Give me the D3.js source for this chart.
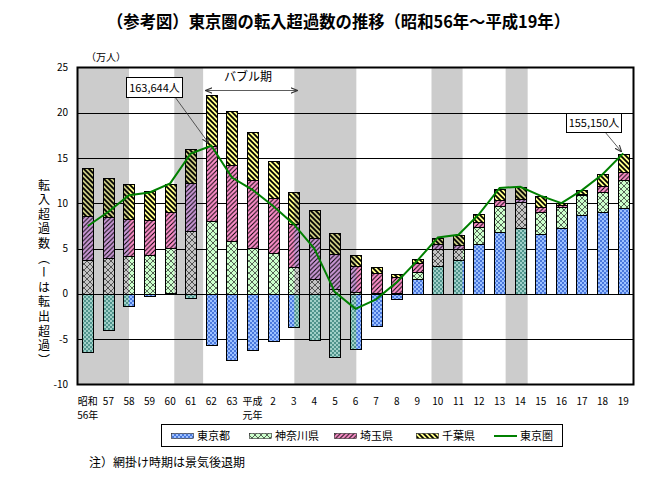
<!DOCTYPE html>
<html><head><meta charset="utf-8">
<script src="https://cdn.jsdelivr.net/npm/d3@7"></script>
<style>
html,body{margin:0;padding:0;background:#fff;}
text{font-family:"Noto Sans CJK JP","Noto Sans",sans-serif;fill:#000;}
</style></head>
<body><svg id="c" width="653" height="481"></svg>
<script>
// ---- data (万人) ----
const labels1 = ["昭和","57","58","59","60","61","62","63","平成","2","3","4","5","6","7","8","9","10","11","12","13","14","15","16","17","18","19"];
const labels2 = ["56年","","","","","","","","元年","","","","","","","","","","","","","","","","","",""];
const tokyo    = [-6.4,-4.0,-1.3,-0.25,0.15,-0.5,-5.6,-7.3,-6.2,-5.2,-3.65,-5.1,-6.95,-6.05,-3.55,-0.6,1.7,3.1,3.75,5.5,6.85,7.25,6.6,7.25,8.75,9.05,9.45];
const kanagawa = [3.7,4.0,4.15,4.25,4.9,7.0,8.0,5.85,5.05,4.5,2.95,1.65,0.5,0.2,0.05,0.15,0.75,1.9,1.2,1.9,2.85,2.9,2.4,2.35,2.15,2.2,3.15];
const saitama  = [4.85,4.5,4.1,3.9,4.0,5.2,8.3,8.35,7.5,6.05,4.75,4.5,3.9,2.85,2.25,1.7,0.95,0.5,0.45,0.5,0.63,0.37,0.62,0.2,0.15,0.65,0.9];
const chiba    = [5.3,4.3,3.85,3.25,3.1,3.8,5.7,6.0,5.35,4.1,3.5,3.1,2.35,1.3,0.66,0.36,0.5,0.73,1.15,0.9,1.28,1.3,1.2,0.23,0.4,1.3,2.0];
const total    = [7.5,9.07,10.9,11.2,12.2,15.5,16.36,12.85,11.5,9.7,7.7,5.0,0.2,-1.65,-0.6,1.3,3.67,6.24,6.54,8.81,11.7,11.83,10.83,10.03,11.46,13.22,15.52];
const seriesNames = ["東京都","神奈川県","埼玉県","千葉県"];
const lineName = "東京圏";
// recession periods (category-position units, 0 = 昭和56年)
const recessions = [[-0.6,2.0],[4.2,5.6],[10.03,13.04],[16.69,18.2],[20.29,21.36]];
const bubble = [5.74,10.16];
const yTicks = [-10,-5,0,5,10,15,20,25];
const notes = {peak:"163,644人", last:"155,150人", bubble:"バブル期", unit:"（万人）",
  title:"（参考図）東京圏の転入超過数の推移（昭和56年～平成19年）",
  ytitle:"転入超過数（ーは転出超過）",
  foot:"注）網掛け時期は景気後退期"};

// ---- layout ----
const svg = d3.select("#c");
const X0=77.5, X1=633.5, Y0=384.5, Y1=67.5;
const idx = d3.range(labels1.length);
const xb = d3.scaleBand().domain(idx).range([X0,X1]).paddingInner(0.46).paddingOuter(0.23);
const xc = i => xb(i)+xb.bandwidth()/2;
const xp = d3.scaleLinear().domain([0,idx.length-1]).range([xc(0),xc(idx.length-1)]);
const y = d3.scaleLinear().domain([-10,25]).range([Y0,Y1]);

// patterns
const defs = svg.append("defs");
function checker(id, base, cell){
  const p=defs.append("pattern").attr("id",id).attr("patternUnits","userSpaceOnUse").attr("width",4).attr("height",4);
  p.append("rect").attr("width",4).attr("height",4).attr("fill",base);
  p.append("rect").attr("width",2).attr("height",2).attr("fill",cell);
  p.append("rect").attr("x",2).attr("y",2).attr("width",2).attr("height",2).attr("fill",cell);
}
function cross(id, base){
  const p=defs.append("pattern").attr("id",id).attr("patternUnits","userSpaceOnUse").attr("width",6).attr("height",6);
  p.append("rect").attr("width",6).attr("height",6).attr("fill",base);
  p.append("path").attr("d","M-1,-1L7,7M7,-1L-1,7").attr("stroke","#222").attr("stroke-width",0.7);
}
function stripe(id, base, dir, s, w){
  const p=defs.append("pattern").attr("id",id).attr("patternUnits","userSpaceOnUse").attr("width",s).attr("height",s);
  p.append("rect").attr("width",s).attr("height",s).attr("fill",base);
  const d = dir>0 ? `M-1,${s+1}L${s+1},-1M-1,1L1,-1M${s-1},${s+1}L${s+1},${s-1}`
                  : `M-1,-1L${s+1},${s+1}M-1,${s-1}L1,${s+1}M${s-1},-1L${s+1},1`;
  p.append("path").attr("d",d).attr("stroke","#000").attr("stroke-width",w);
}
checker("pT","#9cc0ff","#4a78dc"); checker("gT","#a0d0c8","#50948c");
cross("pK","#ccffcc"); cross("gK","#c4c4c4");
stripe("pS","#ff90cc",1,4.5,1.0); stripe("gS","#cc99d8",1,4.5,1.0);
stripe("pC","#ffff88",-1,5,1.7); stripe("gC","#c8c880",-1,5,1.7);
const fills = ["pT","pK","pS","pC"], gfills=["gT","gK","gS","gC"];

// recession bands
const bandRect = r => ({x:Math.max(X0,xp(r[0])), w:Math.min(X1,xp(r[1]))-Math.max(X0,xp(r[0]))});
svg.append("g").selectAll("rect").data(recessions).join("rect")
  .attr("x",d=>bandRect(d).x).attr("width",d=>bandRect(d).w).attr("y",Y1).attr("height",Y0-Y1).attr("fill","#cccccc");
const clip = defs.append("clipPath").attr("id","recClip");
clip.selectAll("rect").data(recessions).join("rect")
  .attr("x",d=>bandRect(d).x).attr("width",d=>bandRect(d).w).attr("y",Y1).attr("height",Y0-Y1);

// gridlines
svg.append("g").selectAll("line").data(yTicks.filter(t=>t>-10&&t<25)).join("line")
  .attr("x1",X0).attr("x2",X1).attr("y1",d=>Math.round(y(d))+0.5).attr("y2",d=>Math.round(y(d))+0.5)
  .attr("stroke","#000").attr("stroke-width",1);

// stacked bars
const table = idx.map(i=>({i, s0:tokyo[i], s1:kanagawa[i], s2:saitama[i], s3:chiba[i]}));
const stack = d3.stack().keys(["s0","s1","s2","s3"]).offset(d3.stackOffsetDiverging)(table);
function drawBars(g, fl){
  g.selectAll("g").data(stack).join("g").attr("fill",(d,k)=>`url(#${fl[k]})`)
    .selectAll("rect").data(d=>d.filter(v=>v[1]!==v[0])).join("rect")
    .attr("x",d=>Math.round(xb(d.data.i))+0.5).attr("width",Math.round(xb.bandwidth()))
    .attr("y",d=>Math.round(y(Math.max(d[0],d[1])))+0.5)
    .attr("height",d=>Math.max(1,Math.round(y(Math.min(d[0],d[1])))-Math.round(y(Math.max(d[0],d[1])))))
    .attr("stroke","#000").attr("stroke-width",1);
}
drawBars(svg.append("g"), fills);
drawBars(svg.append("g").attr("clip-path","url(#recClip)"), gfills);

// total line
svg.append("path").datum(total).attr("fill","none").attr("stroke","#008000").attr("stroke-width",2)
  .attr("d",d3.line().x((d,i)=>xc(i)).y(d=>y(d)));

// frame
svg.append("rect").attr("x",X0).attr("y",Y1).attr("width",X1-X0).attr("height",Y0-Y1)
  .attr("fill","none").attr("stroke","#000").attr("stroke-width",2);

// y axis labels
svg.append("g").selectAll("text").data(yTicks).join("text")
  .attr("x",68).attr("y",d=>y(d)+3.5).attr("text-anchor","end").attr("font-size",10).text(d=>d);

// x labels
svg.append("g").selectAll("text").data(labels1).join("text")
  .attr("x",(d,i)=>xc(i)).attr("y",405).attr("text-anchor","middle").attr("font-size",10).text(d=>d);
svg.append("g").selectAll("text").data(labels2).join("text")
  .attr("x",(d,i)=>xc(i)).attr("y",419).attr("text-anchor","middle").attr("font-size",10).text(d=>d);

// titles
svg.append("text").attr("x",107).attr("y",28).attr("font-size",17).attr("font-weight","bold")
  .attr("textLength",463).attr("lengthAdjust","spacingAndGlyphs").text(notes.title);
svg.append("text").attr("x",86).attr("y",61).attr("font-size",10).text(notes.unit);
svg.append("text").attr("x",44).attr("y",179)
  .style("writing-mode","vertical-rl").style("letter-spacing","2.6px")
  .attr("font-size",12).text(notes.ytitle);

// markers
const mk = defs.append("marker").attr("id","ah").attr("viewBox","0 0 10 10").attr("refX",9).attr("refY",5)
  .attr("markerWidth",7).attr("markerHeight",7).attr("orient","auto-start-reverse").attr("markerUnits","userSpaceOnUse");
mk.append("path").attr("d","M0,1L10,5L0,9").attr("fill","none").attr("stroke","#333").attr("stroke-width",1.5);

// annotations
function callout(bx,by,bw,bh,txt,sx,sy,tx,ty){
  svg.append("line").attr("x1",sx).attr("y1",sy).attr("x2",tx).attr("y2",ty)
    .attr("stroke","#333").attr("stroke-width",0.8).attr("marker-end","url(#ah)");
  svg.append("rect").attr("x",bx+0.5).attr("y",by+0.5).attr("width",bw).attr("height",bh).attr("fill","#fff").attr("stroke","#000");
  svg.append("text").attr("x",bx+bw/2+0.5).attr("y",by+bh/2+4.5).attr("text-anchor","middle").attr("font-size",11).text(txt);
}
callout(126,77,56,20,notes.peak,175,97,xc(6)-3,y(total[6])-3);
callout(566,113,55,19,notes.last,605,132,xc(26)-2,y(total[26])-2);

// bubble period
svg.append("line").attr("x1",xp(bubble[0])).attr("x2",xp(bubble[1])).attr("y1",90.5).attr("y2",90.5)
  .attr("stroke","#333").attr("stroke-width",0.8).attr("marker-start","url(#ah)").attr("marker-end","url(#ah)");
svg.append("text").attr("x",248).attr("y",81).attr("text-anchor","middle").attr("font-size",12).text(notes.bubble);

// legend
svg.append("rect").attr("x",161.5).attr("y",424.5).attr("width",401).attr("height",22).attr("fill","#fff").attr("stroke","#000");
const legX = [171,249,334,416];
const lg = svg.append("g");
seriesNames.forEach((n,k)=>{
  lg.append("rect").attr("x",legX[k]+0.5).attr("y",433.5).attr("width",22).attr("height",5).attr("fill",`url(#${fills[k]})`).attr("stroke","#000").attr("stroke-width",0.5);
  lg.append("text").attr("x",legX[k]+26).attr("y",440).attr("font-size",11).text(n);
});
lg.append("line").attr("x1",494).attr("x2",517).attr("y1",436).attr("y2",436).attr("stroke","#008000").attr("stroke-width",2);
lg.append("text").attr("x",520).attr("y",440).attr("font-size",11).text(lineName);

svg.append("text").attr("x",89).attr("y",467).attr("font-size",12).text(notes.foot);
</script></body></html>
